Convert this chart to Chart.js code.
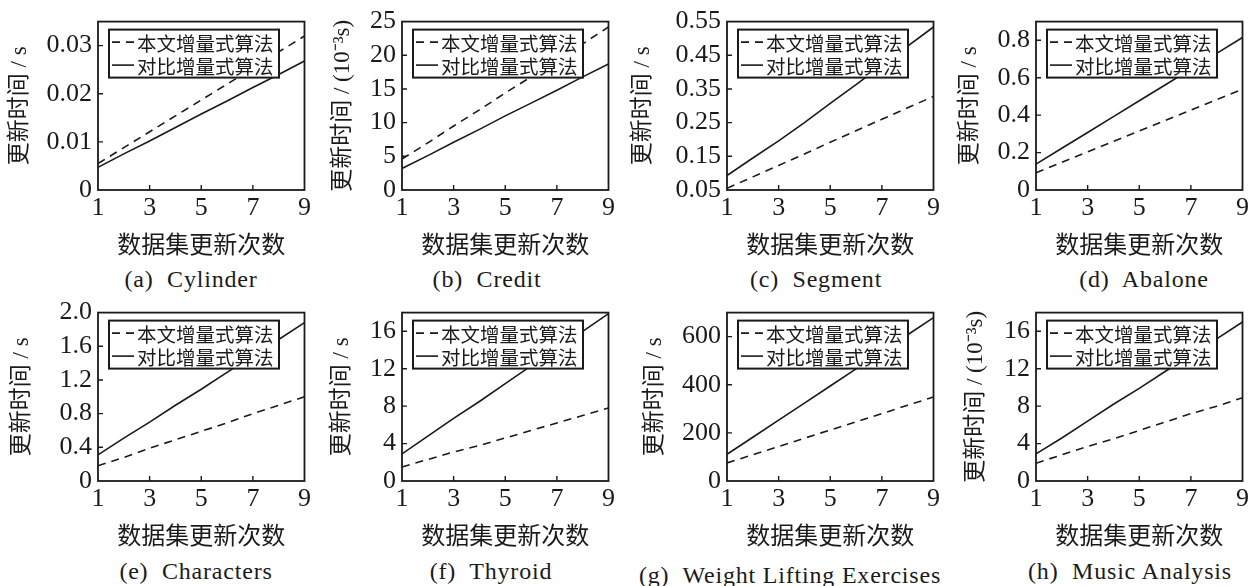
<!DOCTYPE html>
<html lang="zh">
<head>
<meta charset="utf-8">
<title>数据集更新时间对比</title>
<script src="https://cdn.jsdelivr.net/npm/chart.js@4.4.1/dist/chart.umd.min.js"></script>
<style>
  html, body { margin: 0; padding: 0; background: #fff; }
  body { width: 1258px; height: 586px; position: relative; overflow: hidden; }
  .panel { position: absolute; }
  .caption {
    position: absolute;
    font: 24px "Liberation Serif", "Noto Sans CJK SC", serif;
    line-height: 24px;
    letter-spacing: 0.8px;
    white-space: pre;
    color: #1a1a1a;
    transform: translate(-50%, -50%);
  }
</style>
</head>
<body>
<script>
// --- data ---
const updateCounts = [1, 2, 3, 4, 5, 6, 7, 8, 9];
const xTickValues = [1, 3, 5, 7, 9];
const seriesNames = ['本文增量式算法', '对比增量式算法'];
const xTitle = '数据集更新次数';

const cylinderOurs     = [0.0055, 0.0088, 0.0121, 0.0154, 0.0187, 0.0220, 0.0253, 0.0287, 0.0320];
const cylinderCompare  = [0.0047, 0.0075, 0.0102, 0.0130, 0.0158, 0.0185, 0.0213, 0.0240, 0.0268];
const creditOurs       = [4.6, 7.0, 9.5, 11.9, 14.4, 16.8, 19.3, 21.7, 24.2];
const creditCompare    = [3.2, 5.1, 7.1, 9.0, 11.0, 12.9, 14.8, 16.8, 18.7];
const segmentOurs      = [0.055, 0.089, 0.123, 0.157, 0.192, 0.226, 0.260, 0.294, 0.328];
const segmentCompare   = [0.093, 0.145, 0.196, 0.250, 0.307, 0.363, 0.420, 0.477, 0.534];
const abaloneOurs      = [0.092, 0.148, 0.204, 0.260, 0.316, 0.371, 0.427, 0.483, 0.539];
const abaloneCompare   = [0.138, 0.223, 0.307, 0.392, 0.477, 0.561, 0.646, 0.730, 0.815];
const charactersOurs   = [0.18, 0.28, 0.39, 0.49, 0.59, 0.69, 0.80, 0.90, 1.00];
const charactersCompare= [0.31, 0.51, 0.70, 0.90, 1.09, 1.29, 1.49, 1.68, 1.88];
const thyroidOurs      = [1.5, 2.3, 3.1, 3.8, 4.6, 5.4, 6.2, 7.0, 7.8];
const thyroidCompare   = [2.9, 4.8, 6.7, 8.5, 10.4, 12.3, 14.1, 16.0, 17.9];
const weightOurs       = [75, 109, 143, 178, 212, 246, 280, 315, 349];
const weightCompare    = [111, 182, 253, 324, 395, 466, 537, 608, 679];
const musicOurs        = [1.9, 2.8, 3.7, 4.5, 5.4, 6.3, 7.2, 8.0, 8.9];
const musicCompare     = [2.9, 4.6, 6.4, 8.2, 9.9, 11.7, 13.4, 15.2, 17.0];

const cylinderYLabels   = ['0', '0.01', '0.02', '0.03'];
const creditYLabels     = ['0', '5', '10', '15', '20', '25'];
const segmentYLabels    = ['0.05', '0.15', '0.25', '0.35', '0.45', '0.55'];
const abaloneYLabels    = ['0', '0.2', '0.4', '0.6', '0.8'];
const charactersYLabels = ['0', '0.4', '0.8', '1.2', '1.6', '2.0'];
const thyroidYLabels    = ['0', '4', '8', '12', '16'];
const weightYLabels     = ['0', '200', '400', '600'];
const musicYLabels      = ['0', '4', '8', '12', '16'];

const titleSeconds = '更新时间 / s';
const titleMillis  = '更新时间 / (10⁻³s)';

// --- fonts & helpers ---
const serif = '"Liberation Serif", "Noto Sans CJK SC", serif';
const cjk = '"Noto Sans CJK SC", "Liberation Serif", sans-serif';
const ink = '#1a1a1a';
const plotWidth = 209;

// frame box + inward tick marks
const framePlugin = {
  id: 'frame',
  afterDatasetsDraw(chart) {
    const { ctx, chartArea: a, scales: { x, y } } = chart;
    ctx.save();
    ctx.strokeStyle = ink;
    ctx.lineWidth = 1.8;
    ctx.strokeRect(a.left, a.top, a.right - a.left, a.bottom - a.top);
    ctx.lineWidth = 1.4;
    ctx.beginPath();
    x.ticks.forEach(t => {
      const px = x.getPixelForValue(t.value);
      if (px > a.left + 2 && px < a.right - 2) { ctx.moveTo(px, a.bottom); ctx.lineTo(px, a.bottom - 5); }
    });
    y.ticks.forEach(t => {
      const py = y.getPixelForValue(t.value);
      if (py < a.bottom - 2 && py > a.top + 2) { ctx.moveTo(a.left, py); ctx.lineTo(a.left + 5, py); }
    });
    ctx.stroke();
    ctx.restore();
  }
};

// boxed legend inside the plot, top left
const innerLegend = {
  id: 'innerLegend',
  afterDatasetsDraw(chart) {
    const { ctx, chartArea: a } = chart;
    const bx = a.left + 11, by = a.top + 8, bw = 170, bh = 48;
    ctx.save();
    ctx.fillStyle = '#fff';
    ctx.fillRect(bx, by, bw, bh);
    ctx.strokeStyle = ink;
    ctx.lineWidth = 2;
    ctx.strokeRect(bx, by, bw, bh);
    ctx.font = '19.5px ' + cjk;
    ctx.textBaseline = 'middle';
    ctx.fillStyle = ink;
    chart.data.datasets.forEach((ds, i) => {
      const cy = by + 12.5 + i * 23;
      ctx.lineWidth = 1.6;
      ctx.setLineDash(ds.borderDash || []);
      ctx.beginPath();
      ctx.moveTo(bx + 3, cy);
      ctx.lineTo(bx + 25, cy);
      ctx.stroke();
      ctx.setLineDash([]);
      ctx.fillText(ds.label, bx + 28, cy + 1);
    });
    ctx.restore();
  }
};

const panels = [
  { ours: cylinderOurs,   compare: cylinderCompare,   yLabels: cylinderYLabels,   yMin: 0,    yMax: 0.035, yTitle: titleSeconds, caption: '(a)  Cylinder',   left: 0,   top: 0,   yw: 98,  cx: 191, cy: 279 },
  { ours: creditOurs,     compare: creditCompare,     yLabels: creditYLabels,     yMin: 0,    yMax: 25,    yTitle: titleMillis,  caption: '(b)  Credit',     left: 323, top: 0,   yw: 79,  cx: 487, cy: 279 },
  { ours: segmentOurs,    compare: segmentCompare,    yLabels: segmentYLabels,    yMin: 0.05, yMax: 0.55,  yTitle: titleSeconds, caption: '(c)  Segment',    left: 623, top: 0,   yw: 104, cx: 816, cy: 279 },
  { ours: abaloneOurs,    compare: abaloneCompare,    yLabels: abaloneYLabels,    yMin: 0,    yMax: 0.9,   yTitle: titleSeconds, caption: '(d)  Abalone',    left: 950, top: 0,   yw: 86,  cx: 1144, cy: 279 },
  { ours: charactersOurs, compare: charactersCompare, yLabels: charactersYLabels, yMin: 0,    yMax: 2.0,   yTitle: titleSeconds, caption: '(e)  Characters', left: 2,   top: 291, yw: 96,  cx: 196, cy: 571 },
  { ours: thyroidOurs,    compare: thyroidCompare,    yLabels: thyroidYLabels,    yMin: 0,    yMax: 18,    yTitle: titleSeconds, caption: '(f)  Thyroid',    left: 322, top: 291, yw: 80,  cx: 491, cy: 571 },
  { ours: weightOurs,     compare: weightCompare,     yLabels: weightYLabels,     yMin: 0,    yMax: 700,   yTitle: titleSeconds, caption: '(g)  Weight Lifting Exercises', left: 635, top: 291, yw: 92, cx: 790, cy: 575 },
  { ours: musicOurs,      compare: musicCompare,      yLabels: musicYLabels,      yMin: 0,    yMax: 18,    yTitle: titleMillis,  caption: '(h)  Music Analysis', left: 956, top: 291, yw: 80, cx: 1130, cy: 571 },
];

function lineSet(label, values, dash) {
  return {
    label,
    data: updateCounts.map((c, i) => ({ x: c, y: values[i] })),
    borderColor: ink,
    borderWidth: 1.6,
    borderDash: dash,
    pointRadius: 0,
    fill: false,
    tension: 0
  };
}

panels.forEach(p => {
  const wrap = document.createElement('div');
  wrap.className = 'panel';
  wrap.style.left = p.left + 'px';
  wrap.style.top = p.top + 'px';
  const canvas = document.createElement('canvas');
  const w = p.yw + plotWidth + 7, h = 260;
  canvas.width = w; canvas.height = h;
  canvas.style.width = w + 'px'; canvas.style.height = h + 'px';
  wrap.appendChild(canvas);
  document.body.appendChild(wrap);

  new Chart(canvas, {
    type: 'line',
    data: {
      datasets: [
        lineSet(seriesNames[0], p.ours, [8, 6]),
        lineSet(seriesNames[1], p.compare, [])
      ]
    },
    options: {
      responsive: false,
      animation: false,
      devicePixelRatio: 1,
      layout: { padding: { top: 16, right: 7, left: 0, bottom: 0 } },
      plugins: { legend: { display: false }, tooltip: { enabled: false } },
      scales: {
        x: {
          type: 'linear', min: 1, max: 9,
          grid: { display: false, drawTicks: false },
          border: { display: false },
          afterBuildTicks: s => { s.ticks = xTickValues.map(v => ({ value: v })); },
          afterFit: s => { s.height = 70; },
          ticks: { color: ink, font: { family: serif, size: 26 }, padding: 3, maxRotation: 0, autoSkip: false, callback: v => String(v) },
          title: { display: true, text: xTitle, color: ink, font: { family: cjk, size: 24 }, padding: { top: 0, bottom: 2 } }
        },
        y: {
          type: 'linear', min: p.yMin, max: p.yMax,
          grid: { display: false, drawTicks: false },
          border: { display: false },
          afterBuildTicks: s => { s.ticks = p.yLabels.map(l => ({ value: parseFloat(l) })); },
          afterFit: s => { s.width = p.yw; },
          ticks: { color: ink, font: { family: serif, size: 26 }, padding: 6, autoSkip: false, callback: (v, i) => p.yLabels[i] },
          title: { display: true, text: p.yTitle, color: ink, font: { family: serif, size: 23 }, padding: { top: 6.2, bottom: 0 } }
        }
      }
    },
    plugins: [framePlugin, innerLegend]
  });

  const cap = document.createElement('div');
  cap.className = 'caption';
  cap.textContent = p.caption;
  cap.style.left = p.cx + 'px';
  cap.style.top = p.cy + 'px';
  document.body.appendChild(cap);
});
</script>
</body>
</html>
